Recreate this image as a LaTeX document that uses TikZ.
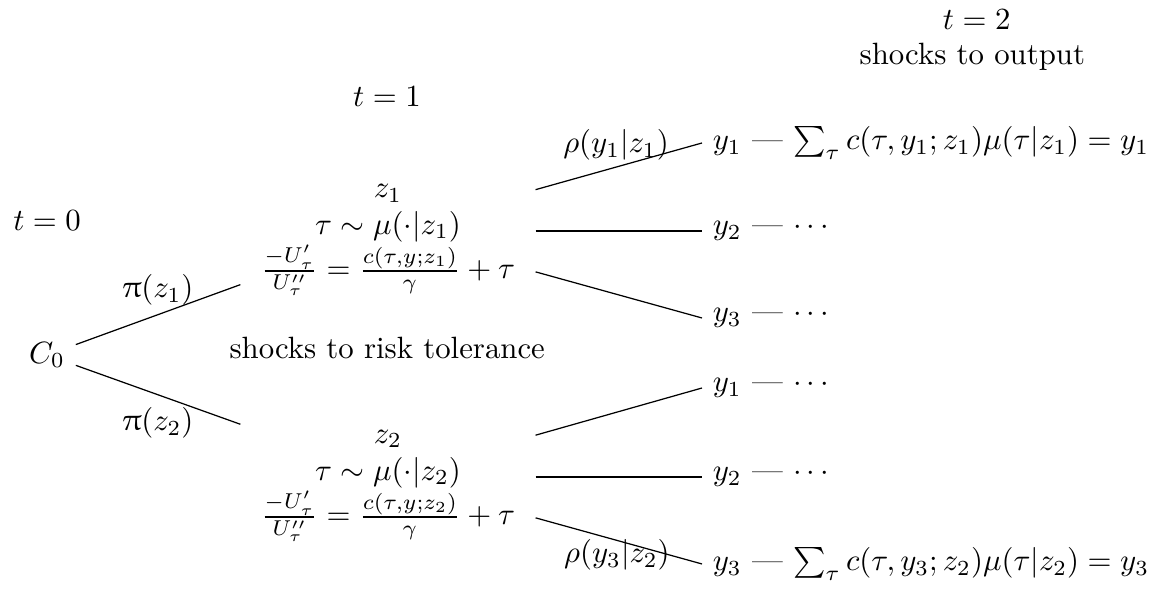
\documentclass[tikz,border=0pt]{standalone}
\usepackage{amsmath, amssymb}
\usepackage{upgreek}

\begin{document}
\begin{tikzpicture}[
    stage/.style={minimum width=3.356cm, align=center},
    leaf/.style={anchor=west}
  ]
  \useasboundingbox (0,0) rectangle (13.185,-6.781);

  % periods
  \node (t0) at (0.537,-2.523) {$t=0$};
  \node (t1) at (4.418,-1.107) {$t=1$};
  \node (t2) at (11.15,-0.228) {$t=2$};
  \node (outshock) at (11.10,-0.65) {shocks to output};
  \node (riskshock) at (4.42,-3.973) {shocks to risk tolerance};

  \node (c0) at (0.537,-4.053) {$C_0$};

  \node[stage] (z1) at (4.429,-2.637) {\rule{0pt}{10pt}$z_1$\\ $\tau\sim\mu(\cdot|z_1)$\\
    $\frac{-U'_\tau}{U''_\tau}=\frac{c(\tau,y;z_1)}{\gamma}+\tau$};
  \node[stage] (z2) at (4.429,-5.445) {\rule{0pt}{10pt}$z_2$\\ $\tau\sim\mu(\cdot|z_2)$\\
    $\frac{-U'_\tau}{U''_\tau}=\frac{c(\tau,y;z_2)}{\gamma}+\tau$};

  \node[leaf] (y11) at (8.014,-1.632) {$y_1$ --- $\sum_\tau c(\tau,y_1;z_1)\mu(\tau|z_1)=y_1$};
  \node[leaf] (y12) at (8.014,-2.637) {$y_2$ --- $\cdots$};
  \node[leaf] (y13) at (8.014,-3.630) {$y_3$ --- $\cdots$};
  \node[leaf] (y21) at (8.014,-4.429) {$y_1$ --- $\cdots$};
  \node[leaf] (y22) at (8.014,-5.445) {$y_2$ --- $\cdots$};
  \node[leaf] (y23) at (8.014,-6.438) {$y_3$ --- $\sum_\tau c(\tau,y_3;z_2)\mu(\tau|z_2)=y_3$};

  \draw (c0) -- (z1);
  \draw (c0) -- (z2);
  \foreach \i in {1,2,3} {
    \draw (z1) -- (y1\i.west);
    \draw (z2) -- (y2\i.west);
  }

  % probabilities
  \node (pz1) at (1.804,-3.311) {$\uppi(z_1)$};
  \node (pz2) at (1.804,-4.829) {$\uppi(z_2)$};
  \node (ry11) at (7.032,-1.655) {$\rho(y_1|z_1)$};
  \node (ry23) at (7.043,-6.336) {$\rho(y_3|z_2)$};
\end{tikzpicture}
\end{document}
